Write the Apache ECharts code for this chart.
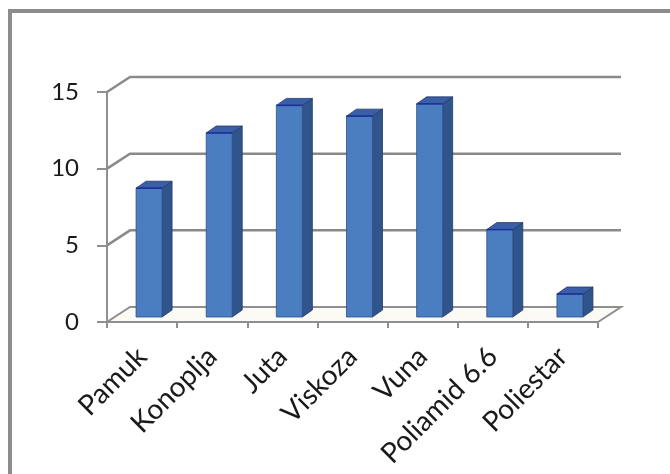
<!DOCTYPE html>
<html lang="hr">
<head>
    <meta charset="UTF-8">
    <title>Vlakna - 3D stupci</title>
    <script src="https://cdn.jsdelivr.net/npm/echarts@6/dist/echarts.min.js"></script>
    <style>
        html, body { margin: 0; padding: 0; background: #fff; }
        #chart { width: 670px; height: 474px; }
    </style>
</head>
<body>
<div id="chart"></div>
<script>
// podaci
var categories = ['Pamuk', 'Konoplja', 'Juta', 'Viskoza', 'Vuna', 'Poliamid 6.6', 'Poliestar'];
var values = [8.4, 12.0, 13.8, 13.1, 13.9, 5.7, 1.5];
var yTicks = [0, 5, 10, 15];

// pomak "dubine" za straznji zid i stupce
var WALL_DX = 23, WALL_DY = -15;
var BAR_DX = 0, BAR_DY = -5;      // prednja strana stupca
var SIDE_DX = 10, SIDE_DY = -7;   // dubina stupca

var myChart = echarts.init(document.getElementById('chart'));

function renderGrid(params, api) {
    var cs = params.coordSys;
    var v = api.value(1);
    var y = api.coord([0, v])[1];
    var x0 = cs.x, x1 = cs.x + cs.width;
    if (v === 0) {
        return {
            type: 'polygon',
            shape: { points: [[x0, y], [x1, y], [x1 + WALL_DX, y + WALL_DY], [x0 + WALL_DX, y + WALL_DY]] },
            style: { fill: '#fbfaf4', stroke: '#8f8f8f', lineWidth: 2 }
        };
    }
    return {
        type: 'polyline',
        shape: { points: [[x0, y], [x0 + WALL_DX, y + WALL_DY], [x1 + WALL_DX, y + WALL_DY]] },
        style: { fill: null, stroke: '#8a8a8a', lineWidth: 2.5 }
    };
}

function renderBar(params, api) {
    var i = api.value(0);
    var top = api.coord([i, api.value(1)]);
    var base = api.coord([i, 0]);
    var l = top[0] - 6 + BAR_DX, r = top[0] + 20 + BAR_DX;
    var t = top[1] + BAR_DY, b = base[1] + BAR_DY;
    return {
        type: 'group',
        children: [
            {   // bocna strana
                type: 'polygon',
                shape: { points: [[r, t], [r + SIDE_DX, t + SIDE_DY], [r + SIDE_DX, b + SIDE_DY], [r, b]] },
                style: { fill: '#30558c', stroke: '#22396a', lineWidth: 0.8 }
            },
            {   // gornja strana
                type: 'polygon',
                shape: { points: [[l, t], [r, t], [r + SIDE_DX, t + SIDE_DY], [l + SIDE_DX, t + SIDE_DY]] },
                style: { fill: '#3b5fa6', stroke: '#22396a', lineWidth: 0.8 }
            },
            {   // prednja strana
                type: 'rect',
                shape: { x: l, y: t, width: r - l, height: b - t },
                style: { fill: '#4a7ec0', stroke: '#2f4f85', lineWidth: 0.8 }
            },
            {
                type: 'line',
                shape: { x1: l, y1: t, x2: r, y2: t },
                style: { stroke: '#1c2f9c', lineWidth: 1.5 }
            }
        ]
    };
}

var option = {
    backgroundColor: '#ffffff',
    animation: false,
    textStyle: { fontFamily: 'Lato, "Open Sans", sans-serif' },
    graphic: [
        { type: 'line', shape: { x1: 10, y1: 9, x2: 10, y2: 474 }, style: { stroke: '#8c8c8c', lineWidth: 4 } },
        { type: 'line', shape: { x1: 8, y1: 11, x2: 670, y2: 11 }, style: { stroke: '#8c8c8c', lineWidth: 4 } }
    ],
    grid: { left: 107, right: 72, top: 92, bottom: 152 },
    xAxis: {
        type: 'category',
        data: categories,
        axisLine: { lineStyle: { color: '#8f8f8f', width: 2 } },
        axisTick: { show: true, length: 6, lineStyle: { color: '#8f8f8f', width: 2 } },
        axisLabel: { rotate: 45, color: '#1a1a1a', fontSize: 28, margin: 30, interval: 0 }
    },
    yAxis: {
        type: 'value',
        min: 0,
        max: 15,
        interval: 5,
        axisLine: { show: true, lineStyle: { color: '#8f8f8f', width: 2 } },
        axisTick: { show: true, length: 10, lineStyle: { color: '#8f8f8f', width: 2 } },
        axisLabel: { color: '#1a1a1a', fontSize: 24, margin: 28 },
        splitLine: { show: false }
    },
    series: [
        {
            type: 'custom',
            renderItem: renderGrid,
            data: yTicks.map(function (v) { return [0, v]; }),
            clip: false,
            silent: true,
            z: 1
        },
        {
            type: 'custom',
            renderItem: renderBar,
            data: values.map(function (v, i) { return [i, v]; }),
            clip: false,
            z: 3
        }
    ]
};

myChart.setOption(option);
</script>
</body>
</html>
